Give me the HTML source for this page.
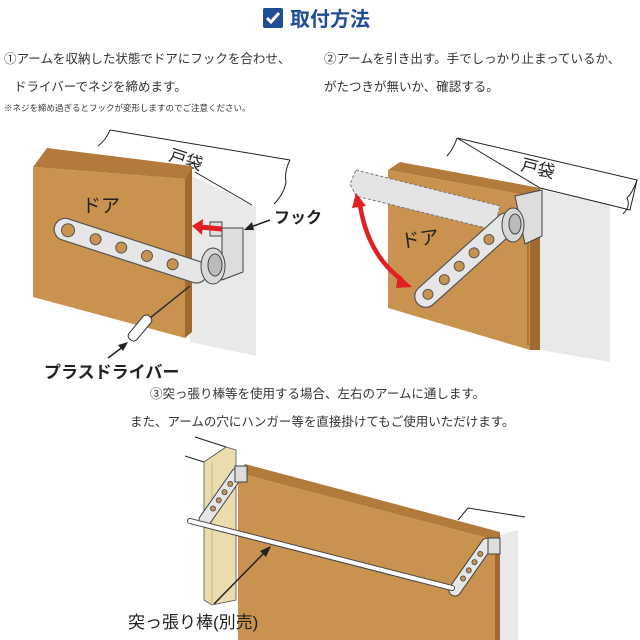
<!DOCTYPE html>
<html><head><meta charset="utf-8"><style>
html,body{margin:0;padding:0;background:#fff;width:640px;height:640px;overflow:hidden}
svg{display:block}
text{font-family:"Liberation Sans","Noto Sans CJK JP",sans-serif}
</style></head><body>
<svg width="640" height="640" viewBox="0 0 640 640" xmlns="http://www.w3.org/2000/svg">
<!-- header -->
<rect x="263" y="8" width="20" height="20" rx="2" fill="#1f4e96"/>
<path d="M267 18 l4 4 l8 -9" stroke="#fff" stroke-width="3" fill="none"/>
<text x="290" y="26" font-size="20" font-weight="bold" fill="#1f4e96">取付方法</text>
<g font-size="12.5" fill="#333">
<text x="4" y="63">①アームを収納した状態でドアにフックを合わせ、</text>
<text x="14" y="91">ドライバーでネジを締めます。</text>
<text x="324" y="63">②アームを引き出す。手でしっかり止まっているか、</text>
<text x="324" y="91">がたつきが無いか、確認する。</text>
<text x="150" y="398">③突っ張り棒等を使用する場合、左右のアームに通します。</text>
<text x="130" y="426">また、アームの穴にハンガー等を直接掛けてもご使用いただけます。</text>
</g>
<text x="4" y="111" font-size="8.5" fill="#333">※ネジを締め過ぎるとフックが変形しますのでご注意ください。</text>

<!-- PANEL 1 -->
<polygon points="190,175 256,207 256,356 190,342" fill="#e9e9e9"/>
<polygon points="110,130 290,160 286,205 256,207 190,172 100,150" fill="#fff"/>
<path d="M110,130 L290,160 M195,172 L252,205" stroke="#222" fill="none"/>
<path d="M110,130 q-4,10 -12,16 M290,160 q-6,12 -4,22 q-2,12 -12,22" stroke="#222" fill="none"/>
<text x="0" y="0" font-size="17" fill="#222" transform="translate(168,160) rotate(18)">戸袋</text>
<polygon points="47,148 192,166 185,179 33,167" fill="#b27b3b"/>
<polygon points="33,167 185,179 185,338 33,297" fill="#c9924f"/>
<polygon points="185,179 192,166 192,332 185,338" fill="#a06a30"/>
<text x="82" y="212" font-size="19" fill="#222">ドア</text>
<!-- arm 1 -->
<g transform="translate(55,225) rotate(18)">
<rect x="0" y="-10" width="160" height="22" rx="11" fill="#e6e6e6" stroke="#555" stroke-width="1.2"/>
<circle cx="14" cy="1" r="6.5" fill="#c9924f" stroke="#555"/>
<circle cx="43" cy="1" r="5.5" fill="#c9924f" stroke="#555"/>
<circle cx="70" cy="1" r="5.5" fill="#c9924f" stroke="#555"/>
<circle cx="97" cy="1" r="5.5" fill="#c9924f" stroke="#555"/>
<circle cx="124" cy="1" r="5.5" fill="#c9924f" stroke="#555"/>
</g>
<polygon points="222,228 243,228 243,272 222,280" fill="#ddd" stroke="#444"/>
<ellipse cx="213" cy="266" rx="12" ry="18" fill="#d8d8d8" stroke="#444"/>
<ellipse cx="215" cy="265" rx="7" ry="11" fill="#bbb" stroke="#444"/>
<polygon points="210,222 222,222 222,236 210,236" fill="#ddd" stroke="#444"/>
<path d="M222,229 L200,227" stroke="#e02020" stroke-width="5"/>
<polygon points="192,226 203,219 202,235" fill="#e02020"/>
<path d="M270,220 L248,228" stroke="#222" stroke-width="1.5"/>
<polygon points="244,230 252,222 254,230" fill="#222"/>
<text x="274" y="223" font-size="16" font-weight="bold" fill="#222">フック</text>
<path d="M150,318 L190,286" stroke="#333" stroke-width="1.5"/>
<g transform="translate(140,328) rotate(-50)"><rect x="-15" y="-5" width="30" height="10" rx="4" fill="#fff" stroke="#333"/></g>
<path d="M108,358 L124,346" stroke="#222" stroke-width="1.5"/>
<polygon points="128,342 118,345 123,351" fill="#222"/>
<text x="44" y="378" font-size="17" font-weight="bold" fill="#222">プラスドライバー</text>

<!-- PANEL 2 -->
<polygon points="540,190 610,205 610,362 540,350" fill="#e9e9e9"/>
<polygon points="457,138 637,180 630,210 610,205 540,188" fill="#fff" stroke="#222"/>
<path d="M637,180 q-4,12 -10,18 q4,8 -4,16 M457,138 q-3,10 -10,18" stroke="#222" fill="none"/>
<text x="0" y="0" font-size="17" fill="#222" transform="translate(520,170) rotate(14)">戸袋</text>
<polygon points="400,162 540,188 530,196 388,170" fill="#b27b3b"/>
<polygon points="388,170 530,196 530,350 388,308" fill="#c9924f"/>
<polygon points="530,196 540,188 540,350 530,350" fill="#a06a30"/>
<line x1="528" y1="200" x2="528" y2="345" stroke="#8a5a28"/>
<polygon points="356,170 500,206 494,230 356,196 350,184" fill="#e4e4e4" stroke="#777" stroke-dasharray="3,2"/>
<text x="0" y="0" font-size="19" fill="#222" transform="translate(402,248) rotate(-8)">ドア</text>
<g transform="translate(425,297) rotate(-42)">
<rect x="-10" y="-11" width="130" height="22" rx="11" fill="#e6e6e6" stroke="#555" stroke-width="1.2"/>
<circle cx="4" cy="0" r="5" fill="#c9924f" stroke="#555"/>
<circle cx="26" cy="0" r="5" fill="#c9924f" stroke="#555"/>
<circle cx="46" cy="0" r="5" fill="#c9924f" stroke="#555"/>
<circle cx="66" cy="0" r="5" fill="#c9924f" stroke="#555"/>
<circle cx="86" cy="0" r="5" fill="#c9924f" stroke="#555"/>
</g>
<polygon points="515,196 542,190 542,236 525,244" fill="#ddd" stroke="#444"/>
<ellipse cx="513" cy="225" rx="11" ry="17" fill="#d8d8d8" stroke="#444"/>
<ellipse cx="515" cy="224" rx="6" ry="10" fill="#bbb" stroke="#444"/>
<path d="M360,205 Q368,255 402,280" stroke="#e02020" stroke-width="4.5" fill="none"/>
<polygon points="356,193 352,208 366,206" fill="#e02020"/>
<polygon points="412,287 398,274 396,288" fill="#e02020"/>

<!-- PANEL 3 -->
<line x1="195" y1="437" x2="226" y2="447" stroke="#222"/>
<line x1="185" y1="456" x2="204" y2="462" stroke="#222"/>
<polygon points="204,462 226,447 236,450 236,600 212,605 204,600" fill="#eadcad" stroke="#555" stroke-width="0.8"/>
<line x1="212" y1="462" x2="212" y2="603" stroke="#c9b988"/>
<polygon points="458,520 468,508 525,517 520,532 505,530" fill="#fff"/>
<path d="M458,520 L468,508 L525,517" stroke="#222" fill="none"/>
<polygon points="500,535 518,530 518,640 500,640" fill="#e9e9e9"/>
<polygon points="245,464 500,532 495,540 238,473" fill="#b27b3b"/>
<polygon points="238,473 495,540 495,640 238,640" fill="#c9924f"/>
<polygon points="495,540 500,532 500,640 495,640" fill="#a06a30"/>
<g transform="translate(205,520) rotate(-55)">
<rect x="-6" y="-6" width="68" height="12" rx="6" fill="#e6e6e6" stroke="#444"/>
<circle cx="14" cy="0" r="2.5" fill="#c9924f" stroke="#555"/><circle cx="24" cy="0" r="2.5" fill="#c9924f" stroke="#555"/><circle cx="34" cy="0" r="2.5" fill="#c9924f" stroke="#555"/><circle cx="44" cy="0" r="2.5" fill="#c9924f" stroke="#555"/>
</g>
<g transform="translate(455,590) rotate(-55)">
<rect x="-6" y="-6" width="68" height="12" rx="6" fill="#e6e6e6" stroke="#444"/>
<circle cx="14" cy="0" r="2.5" fill="#c9924f" stroke="#555"/><circle cx="24" cy="0" r="2.5" fill="#c9924f" stroke="#555"/><circle cx="34" cy="0" r="2.5" fill="#c9924f" stroke="#555"/><circle cx="44" cy="0" r="2.5" fill="#c9924f" stroke="#555"/>
</g>
<rect x="235" y="466" width="12" height="16" fill="#ddd" stroke="#444"/>
<rect x="488" y="538" width="12" height="16" fill="#ddd" stroke="#444"/>
<line x1="190" y1="521" x2="452" y2="588" stroke="#444" stroke-width="6" stroke-linecap="round"/>
<line x1="190" y1="521" x2="452" y2="588" stroke="#fff" stroke-width="4" stroke-linecap="round"/>
<path d="M214,604 L265,552" stroke="#222" stroke-width="1.5"/>
<polygon points="271,546 260,551 266,557" fill="#222"/>
<text x="128" y="628" font-size="17" fill="#222">突っ張り棒(別売)</text>
</svg>
</body></html>
